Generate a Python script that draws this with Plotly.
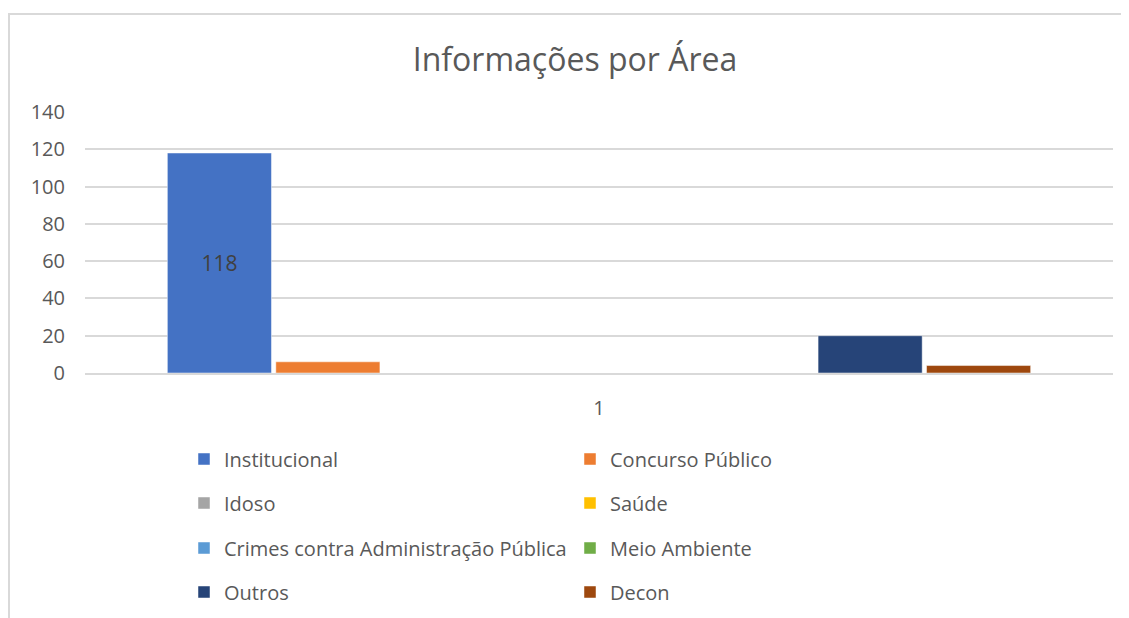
import plotly.graph_objects as go

categories = ["1"]
series_names = ["Institucional", "Concurso Público", "Idoso", "Saúde",
                "Crimes contra Administração Pública", "Meio Ambiente", "Outros", "Decon"]
series_values = [118, 6, 0, 0, 0, 0, 20, 4]
series_colors = ["#4472C4", "#ED7D31", "#A5A5A5", "#FFC000",
                 "#5B9BD5", "#70AD47", "#264478", "#9E480E"]
labelled = [True, False, False, False, False, False, False, False]
y_ticks = [0, 20, 40, 60, 80, 100, 120, 140]

# page has an 8px body margin; figure coordinates = page coordinates - 8
W, H = 1121, 610
L, R, T, B = 77, 16, 104, 245
pw, ph = W - L - R, H - T - B

FONT = "Open Sans"
fig = go.Figure()
legend_ids = ["legend", "legend2", "legend3", "legend4"]
for i, (name, val, col, lab) in enumerate(zip(series_names, series_values, series_colors, labelled)):
    fig.add_trace(go.Bar(
        x=categories, y=[val], name=name,
        marker=dict(color=col, line=dict(color="rgba(255,255,255,0.6)", width=0.8)),
        text=[str(val)] if lab else None,
        textposition="inside" if lab else "none",
        insidetextanchor="middle",
        textfont=dict(color="#404040", size=21, family=FONT),
        legend=legend_ids[i // 2],
        hoverinfo="skip",
    ))

def py(p):
    return (H - B - p) / ph

def px(p):
    return (p - L) / pw

legend_rows = [451, 495, 540, 584]
legends = {}
for lid, row in zip(legend_ids, legend_rows):
    legends[lid] = dict(
        orientation="h", x=px(176), xanchor="left",
        y=py(row), yanchor="middle",
        entrywidth=341, entrywidthmode="pixels",
        font=dict(family=FONT, size=20, color="#595959"),
        bgcolor="rgba(0,0,0,0)", itemwidth=30,
        traceorder="normal",
    )

fig.update_layout(
    width=W, height=H,
    margin=dict(l=L, r=R, t=T, b=B, autoexpand=False),
    paper_bgcolor="white", plot_bgcolor="white",
    title=dict(text="Informações por Área", x=567 / W, xanchor="center",
               y=1 - 52 / H, yanchor="middle",
               font=dict(family=FONT, size=32, color="#595959")),
    barmode="group", bargap=0.156, bargroupgap=0.04,
    xaxis=dict(showgrid=False, showline=True, linecolor="#D9D9D9", linewidth=1.5,
               ticks="", tickfont=dict(family=FONT, size=20, color="#595959"),
               ticklabelstandoff=16),
    yaxis=dict(range=[0, 140], tickvals=y_ticks, showgrid=True, gridcolor="#D9D9D9",
               gridwidth=1.5, zeroline=False, showline=False, ticks="",
               tickfont=dict(family=FONT, size=20, color="#595959"), ticklabelstandoff=19),
    showlegend=True,
    shapes=[
        dict(type="line", xref="paper", yref="paper", x0=px(0), x1=px(W + 5),
             y0=py(6), y1=py(6), line=dict(color="#D9D9D9", width=2)),
        dict(type="line", xref="paper", yref="paper", x0=px(1), x1=px(1),
             y0=py(6), y1=py(H + 5), line=dict(color="#D9D9D9", width=2)),
    ],
    **legends,
)

fig.write_html("out.html")
